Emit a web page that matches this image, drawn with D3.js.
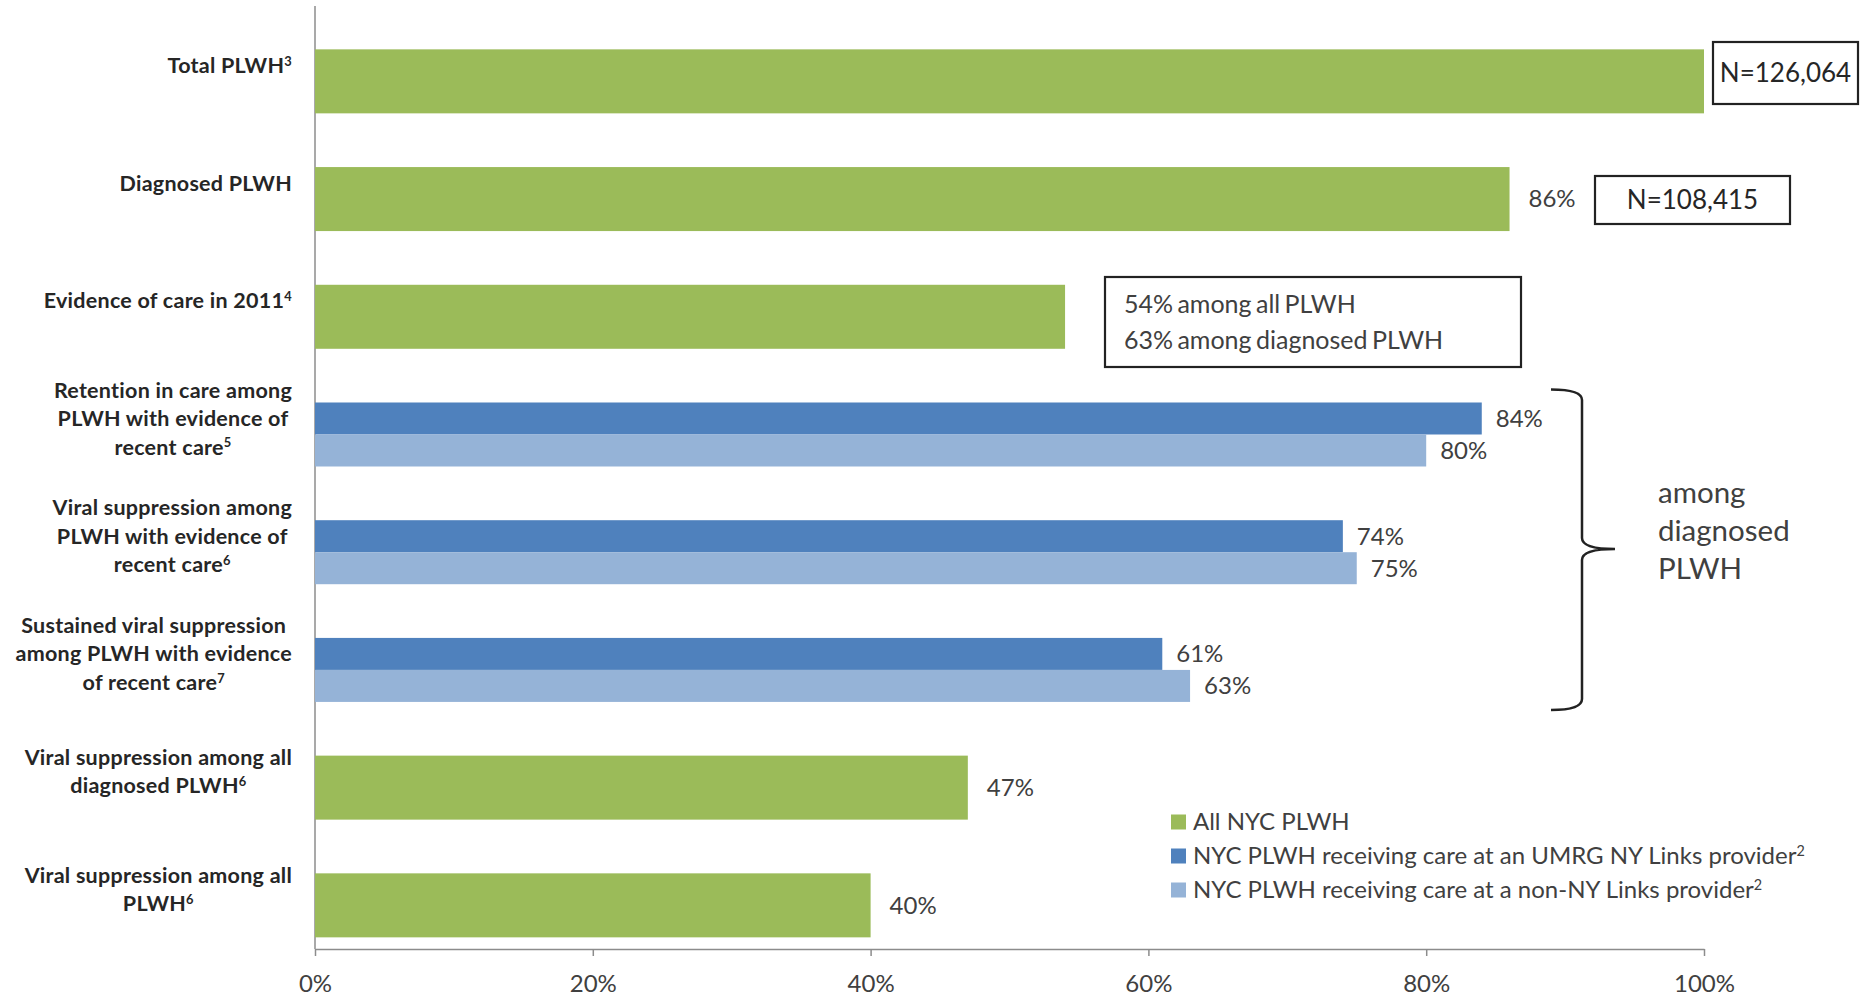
<!DOCTYPE html>
<html>
<head>
<meta charset="utf-8">
<script src="https://cdn.jsdelivr.net/npm/d3@7"></script>
<style>
  html, body { margin: 0; padding: 0; background: #ffffff; }
  svg { display: block; font-family: Carlito, Calibri, Lato, "Open Sans", sans-serif; }
</style>
</head>
<body>
<svg id="chart" width="1861" height="998"></svg>
<script>
// HIV care continuum, New York City
const categories = [
  "Total PLWH",
  "Diagnosed PLWH",
  "Evidence of care in 2011",
  "Retention in care among PLWH with evidence of recent care",
  "Viral suppression among PLWH with evidence of recent care",
  "Sustained viral suppression among PLWH with evidence of recent care",
  "Viral suppression among all diagnosed PLWH",
  "Viral suppression among all PLWH"
];
// category label lines; "^" marks a footnote superscript
const categoryLines = [
  ["Total PLWH^3"],
  ["Diagnosed PLWH"],
  ["Evidence of care in 2011^4"],
  ["Retention in care among", "PLWH with evidence of", "recent care^5"],
  ["Viral suppression among", "PLWH with evidence of", "recent care^6"],
  ["Sustained viral suppression", "among PLWH with evidence", "of recent care^7"],
  ["Viral suppression among all", "diagnosed PLWH^6"],
  ["Viral suppression among all", "PLWH^6"]
];
const allNycValues     = [100, 86, 54, null, null, null, 47, 40];
const linksValues      = [null, null, null, 84, 74, 61, null, null];
const nonLinksValues   = [null, null, null, 80, 75, 63, null, null];
const allNycLabelShown = [false, true, false, false, false, false, true, true];
const tickValues = [0, 20, 40, 60, 80, 100];
const seriesNames = [
  "All NYC PLWH",
  "NYC PLWH receiving care at an UMRG NY Links provider^2",
  "NYC PLWH receiving care at a non-NY Links provider^2"
];
const nBoxTexts = ["N=126,064", "N=108,415"];
const careNoteLines = ["54% among all PLWH", "63% among diagnosed PLWH"];
const braceLines = ["among", "diagnosed", "PLWH"];

const GREEN = "#9bbb59", BLUE = "#4f81bd", LIGHT = "#95b3d7";
const TEXT = "#262626", SOFT = "#404040";
const FONT = "Lato, sans-serif";

const svg = d3.select("#chart");

const x = d3.scaleLinear().domain([0, 100]).range([315, 1704]);
const y = d3.scaleBand().domain(categories).range([22.5, 964.2])
  .paddingInner(0.4563).paddingOuter(0.2281);
const pair = d3.scaleBand().domain(["links", "nonLinks"]).range([0, y.bandwidth()]);
const axisY = 949;

// text with an optional trailing superscript after "^"
function rich(sel, str) {
  const [main, sup] = str.split("^");
  sel.append("tspan").text(main);
  if (sup) sel.append("tspan").attr("font-size", "0.6em").attr("dy", "-0.55em").text(sup);
}

// axes
svg.append("line").attr("x1", x(0)).attr("x2", x(0)).attr("y1", 6).attr("y2", axisY)
  .attr("stroke", "#8c8c8c").attr("stroke-width", 1.5);

const xAxis = svg.append("g").attr("transform", `translate(0,${axisY})`)
  .call(d3.axisBottom(x).tickValues(tickValues).tickFormat(d => d + "%").tickSizeInner(7).tickSizeOuter(0));
xAxis.select(".domain").attr("stroke", "#8c8c8c").attr("stroke-width", 1.5);
xAxis.selectAll(".tick line").attr("stroke", "#8c8c8c").attr("stroke-width", 1.5);
xAxis.selectAll(".tick text").attr("y", 35).attr("dy", "0.35em")
  .attr("font-size", 24).attr("font-family", FONT).attr("fill", SOFT);

// bars
const rows = categories.map((c, i) => ({ c, i, all: allNycValues[i], links: linksValues[i], non: nonLinksValues[i] }));

svg.append("g").selectAll("rect").data(rows.filter(d => d.all != null)).join("rect")
  .attr("x", x(0)).attr("y", d => y(d.c))
  .attr("width", d => x(d.all) - x(0)).attr("height", y.bandwidth())
  .attr("fill", GREEN);

svg.append("g").selectAll("rect").data(rows.filter(d => d.links != null)).join("rect")
  .attr("x", x(0)).attr("y", d => y(d.c) + pair("links"))
  .attr("width", d => x(d.links) - x(0)).attr("height", pair.bandwidth())
  .attr("fill", BLUE);

svg.append("g").selectAll("rect").data(rows.filter(d => d.non != null)).join("rect")
  .attr("x", x(0)).attr("y", d => y(d.c) + pair("nonLinks"))
  .attr("width", d => x(d.non) - x(0)).attr("height", pair.bandwidth())
  .attr("fill", LIGHT);

// value labels
const labels = [];
rows.forEach(d => {
  if (d.all != null && allNycLabelShown[d.i])
    labels.push({ v: d.all, x: x(d.all) + 19, y: y(d.c) + y.bandwidth() / 2 });
  if (d.links != null)
    labels.push({ v: d.links, x: x(d.links) + 14, y: y(d.c) + pair("links") + pair.bandwidth() / 2 });
  if (d.non != null)
    labels.push({ v: d.non, x: x(d.non) + 14, y: y(d.c) + pair("nonLinks") + pair.bandwidth() / 2 });
});
svg.append("g").selectAll("text").data(labels).join("text")
  .attr("x", d => d.x).attr("y", d => d.y).attr("dy", "0.35em")
  .attr("font-size", 24).attr("font-family", FONT)
  .attr("fill", SOFT).text(d => d.v + "%");

// category labels: block right-aligned, lines centred within the block
const labelRight = 292, lineH = 28.5;
rows.forEach(d => {
  const lines = categoryLines[d.i];
  const cy = y(d.c) + y.bandwidth() / 2 - 16;
  const g = svg.append("g");
  const texts = lines.map((ln, k) => {
    const t = g.append("text")
      .attr("y", cy + (k - (lines.length - 1) / 2) * lineH).attr("dy", "0.35em")
      .attr("font-size", 21.5).attr("font-weight", "bold").attr("letter-spacing", 0.25)
      .attr("font-family", FONT)
      .attr("fill", TEXT).attr("text-anchor", "middle");
    rich(t, ln);
    return t;
  });
  const w = d3.max(texts, t => t.node().getComputedTextLength());
  texts.forEach(t => t.attr("x", labelRight - w / 2));
});

// N boxes
const nBoxes = [
  { x0: 1713, x1: 1858, y0: 42, y1: 104 },
  { x0: 1595, x1: 1790, y0: 176, y1: 224 }
];
nBoxes.forEach((b, i) => {
  svg.append("rect").attr("x", b.x0).attr("y", b.y0).attr("width", b.x1 - b.x0).attr("height", b.y1 - b.y0)
    .attr("fill", "#fff").attr("stroke", "#222").attr("stroke-width", 2.2);
  svg.append("text").attr("x", (b.x0 + b.x1) / 2).attr("y", (b.y0 + b.y1) / 2).attr("dy", "0.35em")
    .attr("text-anchor", "middle").attr("font-size", 26).attr("font-family", FONT)
    .attr("fill", TEXT).text(nBoxTexts[i]);
});

// note on evidence of care
svg.append("rect").attr("x", 1105).attr("y", 277).attr("width", 416).attr("height", 90)
  .attr("fill", "#fff").attr("stroke", "#222").attr("stroke-width", 2.2);
careNoteLines.forEach((t, k) => {
  svg.append("text").attr("x", 1124).attr("y", 304 + k * 36.6).attr("dy", "0.35em")
    .attr("font-size", 25).attr("word-spacing", -2).attr("font-family", FONT).attr("fill", SOFT).text(t);
});

// brace grouping the care-based measures
svg.append("path")
  .attr("d", "M1551,389.5 Q1582,389.5 1582,400 L1582,538 Q1582,549 1615,549 Q1582,549 1582,560 L1582,699 Q1582,710 1551,710")
  .attr("fill", "none").attr("stroke", "#222").attr("stroke-width", 2.5);
braceLines.forEach((t, k) => {
  svg.append("text").attr("x", 1658).attr("y", 492.5 + k * 38).attr("dy", "0.35em")
    .attr("font-size", 29.5).attr("font-family", FONT).attr("fill", SOFT).text(t);
});

// legend
const legendColors = [GREEN, BLUE, LIGHT];
const legendY = [822, 856, 890];
seriesNames.forEach((name, i) => {
  svg.append("rect").attr("x", 1171).attr("y", legendY[i] - 7.5).attr("width", 15).attr("height", 15)
    .attr("fill", legendColors[i]);
  const t = svg.append("text").attr("x", 1193).attr("y", legendY[i]).attr("dy", "0.35em")
    .attr("font-size", 24).attr("font-family", FONT).attr("fill", SOFT);
  rich(t, name);
});
</script>
</body>
</html>
